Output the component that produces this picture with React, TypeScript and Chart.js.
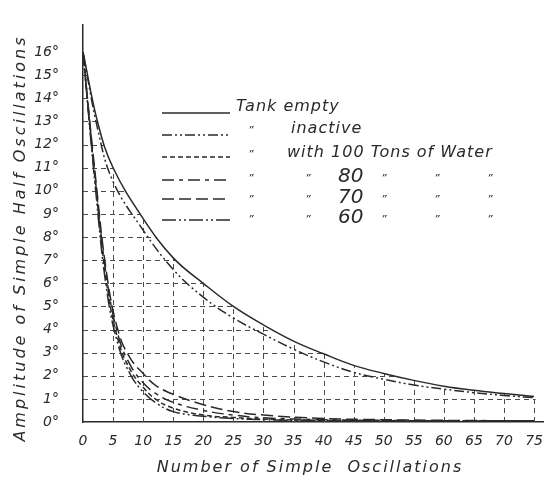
import React, { useEffect, useRef } from "react";
import { Chart, registerables } from "chart.js";

Chart.register(...registerables);

// ---- data ----
const xTickValues = [0, 5, 10, 15, 20, 25, 30, 35, 40, 45, 50, 55, 60, 65, 70, 75];
const yTickValues = [0, 1, 2, 3, 4, 5, 6, 7, 8, 9, 10, 11, 12, 13, 14, 15, 16];

const tankX = [0, 2.5, 5, 10, 15, 20, 25, 30, 35, 40, 45, 50, 55, 60, 65, 70, 75];
const tankEmpty = [16, 12.9, 11.0, 8.8, 7.1, 6.0, 5.0, 4.2, 3.5, 2.95, 2.45, 2.1, 1.8, 1.55, 1.37, 1.23, 1.1];
const tankInactive = [16, 12.6, 10.4, 8.3, 6.6, 5.4, 4.5, 3.8, 3.15, 2.6, 2.15, 1.85, 1.6, 1.42, 1.27, 1.15, 1.05];

const waterX = [0, 2, 4, 6, 8, 10, 12, 15, 20, 25, 30, 40, 50, 60, 75];
const water100 = [16, 10.5, 5.9, 3.4, 2.2, 1.5, 1.0, 0.6, 0.3, 0.2, 0.12, 0.07, 0.05, 0.05, 0.05];
const water80 = [16, 10.6, 6.1, 3.6, 2.4, 1.7, 1.25, 0.85, 0.5, 0.3, 0.18, 0.1, 0.07, 0.05, 0.05];
const water70 = [16, 10.8, 6.3, 3.8, 2.7, 2.1, 1.6, 1.2, 0.75, 0.45, 0.3, 0.15, 0.1, 0.07, 0.05];
const water60 = [16, 10.3, 5.6, 3.2, 2.0, 1.3, 0.85, 0.45, 0.25, 0.15, 0.1, 0.06, 0.05, 0.05, 0.05];

const seriesNames = ["Tank empty", "inactive", "with 100 Tons of Water", "80", "70", "60"];
const dittoMark = "\u201D";
const xTitle = "Number of Simple  Oscillations";
const yTitle = "Amplitude of Simple Half Oscillations";

const INK = "#2a2a2a";
const FONT = "'DejaVu Sans', sans-serif";

const dashes: number[][] = [
  [],
  [10, 3, 2, 3, 2, 3],
  [5, 3],
  [12, 5, 4, 5],
  [12, 5],
  [14, 3, 2, 3, 2, 3],
];

const toPts = (xs: number[], ys: number[]) => xs.map((x, i) => ({ x, y: ys[i] }));

const gridUnderCurve = {
  id: "gridUnderCurve",
  beforeDatasetsDraw(chart: any) {
    const { ctx, chartArea, scales } = chart;
    const x = scales.x;
    const y = scales.y;
    const meta = chart.getDatasetMeta(0);
    const pts = meta.data;
    const line = meta.dataset;
    const y0 = y.getPixelForValue(0);
    ctx.save();
    ctx.beginPath();
    if (line && typeof line.path === "function") {
      line.path(ctx);
    } else {
      ctx.moveTo(pts[0].x, pts[0].y);
      for (let i = 1; i < pts.length; i++) ctx.lineTo(pts[i].x, pts[i].y);
    }
    const last = pts[pts.length - 1];
    ctx.lineTo(last.x + 1.5, last.y);
    ctx.lineTo(last.x + 1.5, y0);
    ctx.lineTo(pts[0].x, y0);
    ctx.closePath();
    ctx.clip();
    ctx.setLineDash([5, 4]);
    ctx.strokeStyle = "#4a4a4a";
    ctx.lineWidth = 1;
    ctx.beginPath();
    for (const v of xTickValues) {
      if (v === 0) continue;
      const px = Math.round(x.getPixelForValue(v)) + 0.5;
      ctx.moveTo(px, y0);
      ctx.lineTo(px, chartArea.top);
    }
    for (const d of yTickValues) {
      if (d === 0) continue;
      const py = Math.round(y.getPixelForValue(d)) + 0.5;
      ctx.moveTo(chartArea.left, py);
      ctx.lineTo(chartArea.right, py);
    }
    ctx.stroke();
    ctx.restore();
  },
};

const legendPlugin = {
  id: "handLegend",
  afterDatasetsDraw(chart: any) {
    const { ctx } = chart;
    const lineY = [113, 135, 157, 180, 199, 220];
    const textY = [107, 129, 153, 177, 198, 218];
    ctx.save();
    ctx.fillStyle = INK;
    ctx.textBaseline = "middle";
    ctx.textAlign = "left";
    for (let i = 0; i < seriesNames.length; i++) {
      ctx.strokeStyle = INK;
      ctx.lineWidth = 1.5;
      ctx.setLineDash(dashes[i]);
      ctx.beginPath();
      ctx.moveTo(162, lineY[i]);
      ctx.lineTo(230, lineY[i]);
      ctx.stroke();
      ctx.setLineDash([]);
      const ty = textY[i];
      if (i === 0) {
        ctx.font = `italic 16px ${FONT}`;
        (ctx as any).letterSpacing = "1px";
        ctx.fillText(seriesNames[i], 236, ty);
      } else if (i < 3) {
        ctx.font = `italic 11px ${FONT}`;
        (ctx as any).letterSpacing = "0px";
        ctx.fillText(dittoMark, 248, ty + 2);
        ctx.font = `italic 16px ${FONT}`;
        (ctx as any).letterSpacing = "1px";
        ctx.fillText(seriesNames[i], i === 1 ? 291 : 287, ty);
      } else {
        ctx.font = `italic 11px ${FONT}`;
        (ctx as any).letterSpacing = "0px";
        for (const dx of [248, 305, 381, 434, 487]) ctx.fillText(dittoMark, dx, ty + 2);
        ctx.font = `italic 20px ${FONT}`;
        ctx.fillText(seriesNames[i], 338, ty);
      }
    }
    (ctx as any).letterSpacing = "0px";
    ctx.restore();
  },
};

const titlePlugin = {
  id: "handTitles",
  afterDraw(chart: any) {
    const { ctx } = chart;
    ctx.save();
    ctx.fillStyle = INK;
    ctx.textAlign = "center";
    ctx.textBaseline = "middle";
    ctx.font = `italic 16px ${FONT}`;
    (ctx as any).letterSpacing = "2px";
    ctx.fillText(xTitle, 310, 468);
    ctx.translate(21, 238);
    ctx.rotate(-Math.PI / 2);
    (ctx as any).letterSpacing = "3px";
    ctx.fillText(yTitle, 0, 0);
    (ctx as any).letterSpacing = "0px";
    ctx.restore();
  },
};

export default function App() {
  const ref = useRef<HTMLCanvasElement | null>(null);
  useEffect(() => {
    document.body.style.margin = "0";
    document.body.style.background = "#ffffff";
    if (!ref.current) return;
    const base = {
      borderColor: INK,
      borderWidth: 1.5,
      pointRadius: 0,
      fill: false,
      tension: 0.4,
    };
    const chart = new Chart(ref.current, {
      type: "line",
      data: {
        datasets: [
          { ...base, label: seriesNames[0], data: toPts(tankX, tankEmpty), borderDash: dashes[0] },
          { ...base, label: seriesNames[1], data: toPts(tankX, tankInactive), borderDash: dashes[1] },
          { ...base, label: seriesNames[2], data: toPts(waterX, water100), borderDash: dashes[2] },
          { ...base, label: seriesNames[3], data: toPts(waterX, water80), borderDash: dashes[3] },
          { ...base, label: seriesNames[4], data: toPts(waterX, water70), borderDash: dashes[4] },
          { ...base, label: seriesNames[5], data: toPts(waterX, water60), borderDash: dashes[5] },
        ],
      },
      options: {
        animation: false,
        responsive: false,
        devicePixelRatio: 1,
        layout: { padding: { top: 5, right: 0, left: 0, bottom: 0 } },
        plugins: { legend: { display: false }, tooltip: { enabled: false }, title: { display: false } },
        scales: {
          x: {
            type: "linear",
            min: 0,
            max: 76.6,
            grid: { display: false },
            border: { display: true, color: INK, width: 1.5 },
            afterBuildTicks: (scale: any) => {
              scale.ticks = xTickValues.map((v) => ({ value: v }));
            },
            afterFit: (scale: any) => {
              scale.height = 66;
            },
            ticks: {
              autoSkip: false,
              maxRotation: 0,
              padding: 3,
              color: INK,
              font: { family: FONT, size: 14, style: "italic" },
              callback: (v: any) => String(v),
            },
          },
          y: {
            type: "linear",
            min: 0,
            max: 17.2,
            grid: { display: false },
            border: { display: true, color: INK, width: 1.5 },
            afterBuildTicks: (scale: any) => {
              scale.ticks = yTickValues.map((v) => ({ value: v }));
            },
            afterFit: (scale: any) => {
              scale.width = 83;
            },
            ticks: {
              autoSkip: false,
              padding: 16,
              color: INK,
              font: { family: FONT, size: 14, style: "italic" },
              callback: (v: any) => `${v}°`,
            },
          },
        },
      },
      plugins: [gridUnderCurve, legendPlugin, titlePlugin],
    });
    return () => chart.destroy();
  }, []);
  return (
    <div style={{ width: 546, height: 488, position: "relative", background: "#fff" }}>
      <canvas ref={ref} width={546} height={488} style={{ display: "block" }} />
    </div>
  );
}
